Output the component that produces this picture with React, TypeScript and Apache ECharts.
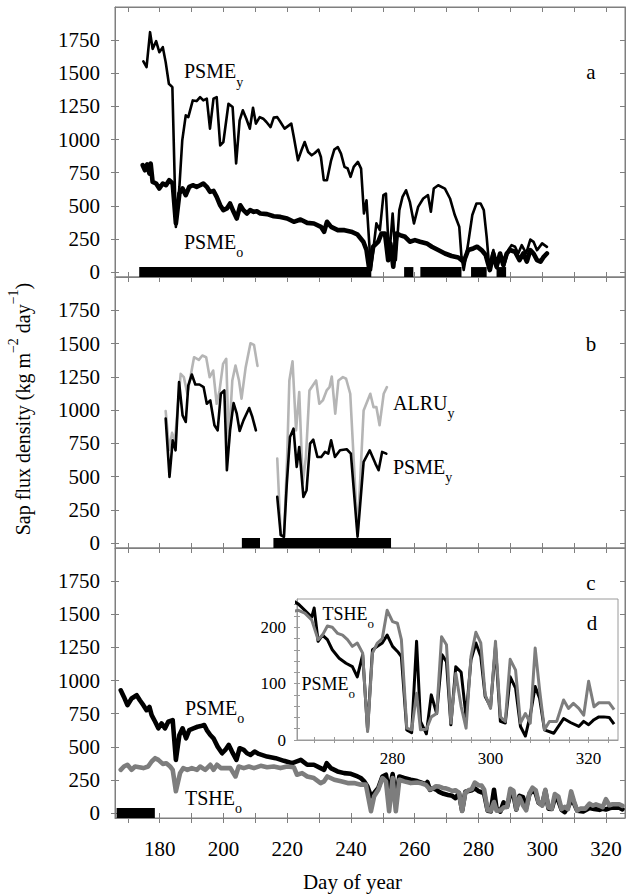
import React, { useEffect, useRef } from "react";
import * as echarts from "echarts";

type P = [number, number];

// ---------- axes ----------
const dayRange: P = [166, 326];
const xTickDays = [170, 180, 190, 200, 210, 220, 230, 240, 250, 260, 270, 280, 290, 300, 310, 320];
const xLabelDays = [180, 200, 220, 240, 260, 280, 300, 320];
const fluxRange: P = [-37.5, 2000];
const fluxTicks = [0, 250, 500, 750, 1000, 1250, 1500, 1750];
const insetDayRange: P = [260.5, 326];
const insetDayTicks = [264, 268, 272, 276, 280, 284, 288, 292, 296, 300, 304, 308, 312, 316, 320, 324];
const insetDayLabels = [280, 300, 320];
const insetFluxRange: P = [0, 250];
const insetFluxTicks = [0, 20, 40, 60, 80, 100, 120, 140, 160, 180, 200, 220, 240];
const insetFluxLabels = [0, 100, 200];

// ---------- panel a ----------
const psmeYoungA: P[] = [
  [174.9, 1589], [175.9, 1546], [177, 1810], [177.8, 1684], [178.9, 1742], [179.9, 1659], [181, 1697],
  [181.9, 1584], [182.9, 1421], [184, 1395], [185.1, 341], [186.2, 642], [187.1, 994], [188.2, 1182],
  [189, 1169], [190.4, 1295], [191.6, 1290], [192.7, 1320], [193.7, 1295], [194.8, 1308], [195.8, 1082],
  [196.9, 1308], [197.9, 1320], [199, 956], [200, 981], [201.6, 1270], [202.9, 1245], [204, 819],
  [205.1, 1145], [206.1, 1220], [207.2, 1157], [208.3, 1082], [209.3, 1240], [210.2, 1120], [211.4, 1169],
  [212.5, 1157], [213.5, 1132], [214.8, 1094], [215.8, 1165], [216.9, 1169], [217.9, 1132], [219.2, 1082],
  [221.3, 1120], [222.1, 1019], [223.4, 843], [224.5, 919], [225.5, 981], [226.6, 906], [227.7, 881],
  [228.7, 898], [229.8, 924], [230.6, 868], [231.5, 693], [232.5, 693], [233.8, 843], [234.8, 924],
  [235.9, 943], [236.9, 894], [238, 793], [239, 781], [239.9, 718], [240.9, 793], [242.2, 831],
  [243.2, 780], [244.1, 442], [244.9, 542], [246.3, 15], [248, 367], [249.1, 316], [250.2, 580],
  [251, 592], [252, 103], [253.1, 442], [254.1, 90], [255.2, 467], [256.2, 567], [257.3, 617],
  [258.5, 530], [259.8, 367], [261.1, 492], [262.7, 555], [264.2, 580], [265.1, 455], [266, 630],
  [267.4, 655], [269.5, 630], [271.1, 555], [272.6, 430], [274, 342], [274.7, 115], [275.4, 15],
  [276.8, 216], [278.1, 430], [279.4, 517], [280.7, 517], [281.7, 467], [282.6, 266], [283.4, 40],
  [284.7, 166], [285.7, 28], [286.8, 115], [288, 40], [289.4, 166], [290.4, 203], [291.5, 191],
  [292.5, 140], [293.6, 203], [295, 140], [296.3, 245], [297.3, 228], [298.4, 165], [300, 216], [301.5, 190],
];
const psmeOldA: P[] = [
  [174.7, 806], [175.4, 768], [176.1, 813], [176.8, 743], [177.2, 818], [177.8, 680], [178.9, 668],
  [179.9, 630], [181, 668], [182, 655], [183, 693], [184.1, 668], [185.1, 367], [186.2, 593], [187.2, 630],
  [188.2, 580], [189.3, 643], [190.4, 655], [191.6, 643], [192.7, 655], [193.7, 668], [194.8, 643],
  [195.8, 605], [196.9, 612], [197.9, 567], [199, 504], [200, 467], [201.1, 480], [202.1, 517],
  [203.2, 454], [204.2, 404], [205.3, 504], [206.3, 467], [207.4, 442], [208.4, 467], [209.5, 454],
  [210.5, 459], [211.6, 442], [213.7, 437], [215.8, 421], [217.9, 416], [220, 404], [222.1, 379],
  [224.2, 396], [226.3, 371], [228.4, 366], [230.6, 341], [231.6, 304], [232.5, 379], [233.8, 341],
  [235.9, 316], [238, 316], [240.1, 304], [242, 285], [243.9, 229], [244.9, 166], [245.8, 15],
  [247, 191], [248.6, 229], [249.6, 291], [250.7, 291], [251.7, 90], [252.4, 216], [253.3, 40],
  [254.3, 291], [255.4, 279], [257, 266], [258.5, 229], [260.1, 241], [261.7, 229], [263.8, 216],
  [265.4, 191], [267.4, 166], [269.5, 140], [271.6, 121], [273.7, 110], [274.7, 90], [275.4, 78],
  [276.8, 166], [278.4, 178], [279.6, 191], [281, 166], [282.3, 128], [283.6, 15], [284.7, 140],
  [285.7, 40], [286.8, 140], [287.8, 53], [288.9, 140], [289.9, 166], [291.5, 153], [292.9, 90],
  [294.1, 140], [295.2, 78], [296.3, 165], [297.3, 140], [298.4, 90], [299.5, 78], [300.5, 115], [301.5, 140],
];
const barsA: P[] = [[173.6, 246.4], [256.7, 259.6], [261.8, 274.7], [277.7, 282.6], [285.7, 288.7]];

// ---------- panel b ----------
const alruYoungB1: P[] = [
  [181.9, 992], [183, 700], [183.9, 828], [184.8, 770], [186.6, 1272], [187.6, 1247], [188.7, 1122],
  [190.8, 1397], [192.3, 1377], [193.4, 1410], [194.6, 1397], [195.7, 1247], [196.8, 1297], [197.9, 1047],
  [198.8, 1147], [199.9, 1347], [200.9, 1385], [201.7, 747], [202.8, 1222], [203.8, 1335], [204.9, 1222],
  [205.7, 1085], [207, 1322], [208.5, 1502], [209.6, 1490], [210.7, 1332],
];
const psmeYoungB1: P[] = [
  [181.9, 935], [183.1, 497], [184.1, 772], [185, 697], [186.1, 1210], [187.2, 960], [188.2, 910],
  [189, 1185], [190.1, 1267], [191.2, 1192], [192.5, 1192], [193.8, 1172], [194.8, 1047], [195.9, 1072],
  [197.2, 885], [198.2, 847], [199.2, 1122], [200.3, 1147], [201.1, 547], [202.1, 847], [203.2, 1052],
  [204.2, 972], [205.1, 842], [206.3, 922], [208.1, 1015], [209.1, 947], [210.2, 847],
];
const alruYoungB2: P[] = [
  [216.9, 635], [218, 60], [219, 47], [220, 640], [220.7, 1222], [221.7, 1367], [222.8, 847],
  [223.8, 1135], [224.9, 450], [225.9, 647], [227, 1147], [229.1, 1222], [230.1, 1047], [231.2, 1072],
  [232.4, 1147], [233.3, 1172], [234, 1252], [235.1, 972], [236.1, 1222], [237.5, 1247], [238.5, 1235],
  [239.8, 1122], [242.1, 72], [244, 997], [246.1, 1122], [247.1, 1022], [248, 1022], [249, 885],
  [250.3, 1122], [251.3, 1172],
];
const psmeYoungB2: P[] = [
  [216.9, 347], [218, 60], [219, 47], [219.9, 447], [220.9, 797], [222, 860], [223, 572], [223.8, 722],
  [225.1, 347], [226.1, 397], [227.2, 747], [228.2, 777], [229.5, 647], [230.7, 647], [231.9, 685],
  [232.9, 672], [233.8, 772], [235, 647], [236.6, 697], [238.7, 705], [240, 672], [242.1, 47],
  [244, 610], [245.9, 697], [247.7, 597], [248.7, 547], [249.8, 685], [251.1, 672],
];
const barsB: P[] = [[205.8, 211.5], [215.7, 252.6]];

// ---------- panel c and inset d ----------
const psmeOldC: P[] = [
  [167.8, 926], [168.8, 876], [169.9, 814], [171.2, 864], [172.8, 889], [173.8, 851], [174.9, 814],
  [175.9, 776], [176.8, 801], [177.5, 739], [178.6, 689], [179.6, 639], [180.6, 676], [181.7, 639],
  [182.7, 689], [184.1, 701], [185.1, 401], [186.2, 589], [187.2, 639], [188.3, 564], [189.3, 626],
  [190.6, 639], [191.9, 651], [192.9, 656], [194, 664], [194.8, 626], [195.9, 589], [196.9, 564],
  [198.2, 501], [199.6, 451], [200.6, 476], [201.7, 514], [202.7, 464], [204.1, 401], [205.1, 489],
  [206.4, 476], [207.4, 451], [208.5, 439], [209.8, 464], [211.1, 446], [213.7, 426], [216.4, 414],
  [219, 394], [221.6, 376], [224.3, 401], [226.3, 364], [228.4, 364], [230.5, 339], [231.6, 326],
  [232.4, 376], [233.7, 339], [235.8, 314], [237.9, 301], [240, 296], [242.1, 276], [243.1, 264],
  [244.2, 239], [245.2, 201], [246.3, 126], [247.3, 151], [248.6, 189], [249.9, 276], [251, 289],
  [252, 151], [253.1, 294], [254.1, 101], [255.2, 276], [256.7, 264], [258.8, 251], [260.8, 241],
  [263.5, 218], [264, 234], [264.8, 175], [265.7, 186], [266.7, 178], [267.7, 160], [269.1, 145],
  [270.5, 136], [271.8, 130], [272.8, 112], [273.9, 151], [274.9, 18], [275.9, 160], [276.9, 166],
  [277.9, 172], [278.9, 186], [280, 166], [281, 157], [281.8, 148], [282.9, 18], [283.9, 13],
  [284.9, 175], [285.7, 33], [286.9, 11], [287.9, 80], [289, 47], [290.1, 151], [291, 139], [291.9, 27],
  [292.9, 130], [294, 120], [295, 41], [296, 142], [297, 172], [298, 148], [298.9, 77], [300, 59],
  [301, 166], [302, 33], [303, 30], [304, 112], [305.1, 92], [306.1, 24], [307.1, 7], [308.1, 44],
  [309.1, 95], [310, 74], [311, 18], [312.9, 12], [314.9, 38], [316.3, 31], [318, 24], [319, 33],
  [320, 27], [321.1, 36], [322.1, 41], [323.1, 41], [324.2, 40], [325.2, 28],
];
const tsheOldC: P[] = [
  [167.8, 326], [168.8, 351], [169.9, 364], [171.2, 326], [172.3, 351], [173.6, 346], [174.9, 339],
  [176.4, 351], [177.5, 389], [178.6, 414], [179.6, 401], [181, 371], [182.1, 376], [183.3, 351],
  [184.1, 326], [185.1, 164], [186.4, 301], [187.4, 339], [188.7, 326], [190.1, 339], [191.7, 326],
  [192.7, 351], [194.3, 326], [195.9, 364], [196.9, 326], [198, 364], [199.2, 339], [200.6, 339],
  [202.2, 339], [203.8, 276], [204.8, 351], [206.4, 339], [208, 351], [209.6, 339], [211.7, 356],
  [213.7, 346], [215.8, 351], [217.9, 339], [220, 351], [222.1, 346], [223.1, 289], [224.7, 301],
  [226.3, 276], [228.4, 264], [230.5, 226], [231.6, 239], [232.6, 276], [234.8, 251], [236.9, 239],
  [239, 226], [241, 226], [243.1, 214], [244.7, 214], [246.3, 14], [247.3, 126], [248.6, 176],
  [249.9, 264], [251, 239], [252, 14], [253.1, 264], [254.1, 14], [255.2, 251], [256.7, 239],
  [258.8, 226], [260.8, 230], [262.1, 225], [263.5, 213], [264.8, 178], [265.7, 186], [266.7, 202],
  [267.7, 200], [268.8, 189], [269.8, 186], [270.8, 178], [271.8, 166], [272.8, 172], [273.9, 154],
  [274.9, 15], [275.9, 154], [276.9, 172], [277.9, 180], [278.9, 230], [280, 210], [281, 207],
  [281.8, 178], [282.9, 21], [283.9, 18], [284.9, 83], [285.7, 18], [286.9, 19], [287.9, 41], [289, 47],
  [290, 183], [291, 169], [291.9, 30], [292.9, 118], [294, 59], [295, 21], [296, 148], [297, 191],
  [298, 172], [298.9, 80], [300, 56], [301, 175], [302, 41], [303, 33], [304, 143], [305.1, 124],
  [306.1, 30], [307.1, 47], [308.1, 30], [309.1, 163], [310, 89], [311, 18], [312, 33], [313.5, 33],
  [314.9, 71], [315.9, 56], [316.9, 65], [318, 56], [319, 44], [320, 104], [321.1, 59], [322.1, 66],
  [324.2, 66], [325.2, 54],
];
const barsC: P[] = [[166.5, 178.5]];

// ---------- styling ----------
const FONT = "Liberation Serif, Times New Roman, Times, serif";
const AX = "#7f7f7f";
const INSET_AX = "#9a9a9a";
const GRAY_LIGHT = "#b5b5b5";
const GRAY_MID = "#7d7d7d";

function buildOption() {
  const grids: any[] = [
    { left: 115, top: 7, width: 510, height: 270 },
    { left: 115, top: 277, width: 510, height: 271 },
    { left: 115, top: 548, width: 510, height: 270 },
  ].map((g) => ({ ...g, show: true, borderColor: AX, borderWidth: 1, backgroundColor: "transparent" }));
  grids.push({ left: 297, top: 599, width: 321, height: 141, show: true, borderColor: INSET_AX, borderWidth: 1, backgroundColor: "#fff" });

  const xAxes: any[] = [];
  const yAxes: any[] = [];
  const addX = (o: any) => (xAxes.push(o), xAxes.length - 1);
  const addY = (o: any) => (yAxes.push(o), yAxes.length - 1);

  const ax = (gridIndex: number, range: P, ticks: number[], labels: number[], position: string, inside: boolean,
    line: boolean, showLabel: boolean, color: string, fontSize: number, margin: number, tickLen: number) => ({
    type: "value", gridIndex, min: range[0], max: range[1], position,
    axisLine: { show: line, onZero: false, lineStyle: { color, width: 1 } },
    axisTick: { show: true, inside, length: tickLen, customValues: ticks, lineStyle: { color, width: 1 } },
    axisLabel: {
      show: showLabel, customValues: labels, margin, fontFamily: FONT, fontSize, color: "#000",
      formatter: (v: number) => String(v),
    },
    splitLine: { show: false },
  });

  const xIdx: number[] = [];
  const yIdx: number[] = [];
  for (let i = 0; i < 3; i++) {
    xIdx.push(addX(ax(i, dayRange, xTickDays, xLabelDays, "bottom", false, true, i === 2, AX, 21, 20, 5)));
    addX(ax(i, dayRange, xTickDays, xLabelDays, "bottom", true, false, false, AX, 21, 20, 5));
    if (i === 0) addX(ax(i, dayRange, xTickDays, xLabelDays, "top", true, true, false, AX, 21, 20, 5));
    yIdx.push(addY(ax(i, fluxRange, fluxTicks, fluxTicks, "left", false, true, true, AX, 21, 15, 4)));
    addY(ax(i, fluxRange, fluxTicks, fluxTicks, "left", true, false, false, AX, 21, 15, 4));
    addY(ax(i, fluxRange, fluxTicks, fluxTicks, "right", true, true, false, AX, 21, 15, 5));
  }
  const xin = addX(ax(3, insetDayRange, insetDayTicks, insetDayLabels, "bottom", false, true, true, INSET_AX, 17, 10, 3));
  addX(ax(3, insetDayRange, insetDayTicks, insetDayLabels, "bottom", true, false, false, INSET_AX, 17, 10, 3));
  const yin = addY(ax(3, insetFluxRange, insetFluxTicks, insetFluxLabels, "left", false, true, true, INSET_AX, 17, 11, 3));
  addY(ax(3, insetFluxRange, insetFluxTicks, insetFluxLabels, "left", true, false, false, INSET_AX, 17, 11, 3));

  const bars = (list: P[]) => ({
    silent: true,
    label: { show: false },
    itemStyle: { color: "#000", borderWidth: 0 },
    data: list.map(([s, e]) => [{ xAxis: s, yAxis: -37.5 }, { xAxis: e, yAxis: 37.5 }]),
  });

  const line = (name: string, data: P[], panel: number, color: string, width: number, extra: any = {}) => ({
    name, type: "line", data, xAxisIndex: xIdx[panel], yAxisIndex: yIdx[panel],
    symbol: "none", showSymbol: false, clip: true, silent: true,
    lineStyle: { color, width, join: "round", cap: "round" }, ...extra,
  });

  const series: any[] = [
    line("PSMEy a", psmeYoungA, 0, "#000", 2.6, { markArea: bars(barsA) }),
    line("PSMEo a", psmeOldA, 0, "#000", 4.6),
    line("ALRUy b1", alruYoungB1, 1, GRAY_LIGHT, 2.6, { markArea: bars(barsB) }),
    line("ALRUy b2", alruYoungB2, 1, GRAY_LIGHT, 2.6),
    line("PSMEy b1", psmeYoungB1, 1, "#000", 2.6),
    line("PSMEy b2", psmeYoungB2, 1, "#000", 2.6),
    line("PSMEo c", psmeOldC, 2, "#000", 4.6, { markArea: bars(barsC) }),
    line("TSHEo c", tsheOldC, 2, GRAY_MID, 4.6),
    {
      name: "PSMEo d", type: "line", data: psmeOldC, xAxisIndex: xin, yAxisIndex: yin, symbol: "none",
      clip: true, silent: true, z: 5, lineStyle: { color: "#000", width: 3, join: "round" },
    },
    {
      name: "TSHEo d", type: "line", data: tsheOldC, xAxisIndex: xin, yAxisIndex: yin, symbol: "none",
      clip: true, silent: true, z: 5, lineStyle: { color: GRAY_MID, width: 3, join: "round" },
    },
  ];

  // series name with subscript: main text top-aligned, subscript bottom-aligned in a taller line
  const label = (x: number, y: number, main: string, sub: string, size = 20) => ({
    type: "text", x, y, z: 100,
    style: {
      text: `{m|${main}}{s|${sub}}`,
      align: "left",
      verticalAlign: "top",
      rich: {
        m: { fontFamily: FONT, fontSize: size, lineHeight: size, verticalAlign: "top", fill: "#000" },
        s: { fontFamily: FONT, fontSize: Math.round(size * 0.72), lineHeight: Math.round(size * 1.4), verticalAlign: "bottom", fill: "#000" },
      },
    },
  });
  const plain = (x: number, y: number, text: string, size = 21) => ({
    type: "text", x, y, z: 100,
    style: { text, fontFamily: FONT, fontSize: size, fill: "#000", align: "center", verticalAlign: "middle" },
  });

  const graphic = [
    label(184, 61, "PSME", "y"),
    label(184, 231.5, "PSME", "o"),
    label(393, 392.5, "ALRU", "y"),
    label(393, 456.5, "PSME", "y"),
    label(185, 697.5, "PSME", "o"),
    label(185, 787.5, "TSHE", "o"),
    label(322.5, 604.5, "TSHE", "o", 18),
    label(301.5, 674.5, "PSME", "o", 18),
    plain(591, 71.5, "a"),
    plain(591, 344, "b"),
    plain(591, 582.5, "c"),
    plain(592, 623, "d"),
    plain(352.5, 881.5, "Day of year"),
    {
      type: "text", x: 19.5, y: 409, rotation: Math.PI / 2, z: 100,
      style: {
        text: "{m|Sap flux density (kg m}{p|\u22122}{m| day}{p|\u22121}{m|)}",
        align: "center",
        verticalAlign: "middle",
        rich: {
          m: { fontFamily: FONT, fontSize: 20, lineHeight: 20, verticalAlign: "bottom", fill: "#000" },
          p: { fontFamily: FONT, fontSize: 14, lineHeight: 27, verticalAlign: "top", fill: "#000" },
        },
      },
    },
  ];

  return {
    animation: false,
    backgroundColor: "#fff",
    grid: grids,
    xAxis: xAxes,
    yAxis: yAxes,
    series,
    graphic,
  };
}

export default function App() {
  const ref = useRef<HTMLDivElement>(null);
  useEffect(() => {
    if (!ref.current) return;
    const chart = echarts.init(ref.current, undefined, { renderer: "svg" });
    chart.setOption(buildOption() as any);
    return () => chart.dispose();
  }, []);
  return (
    <div
      ref={ref}
      style={{ position: "fixed", left: 0, top: 0, width: 629, height: 894, background: "#fff" }}
    />
  );
}
